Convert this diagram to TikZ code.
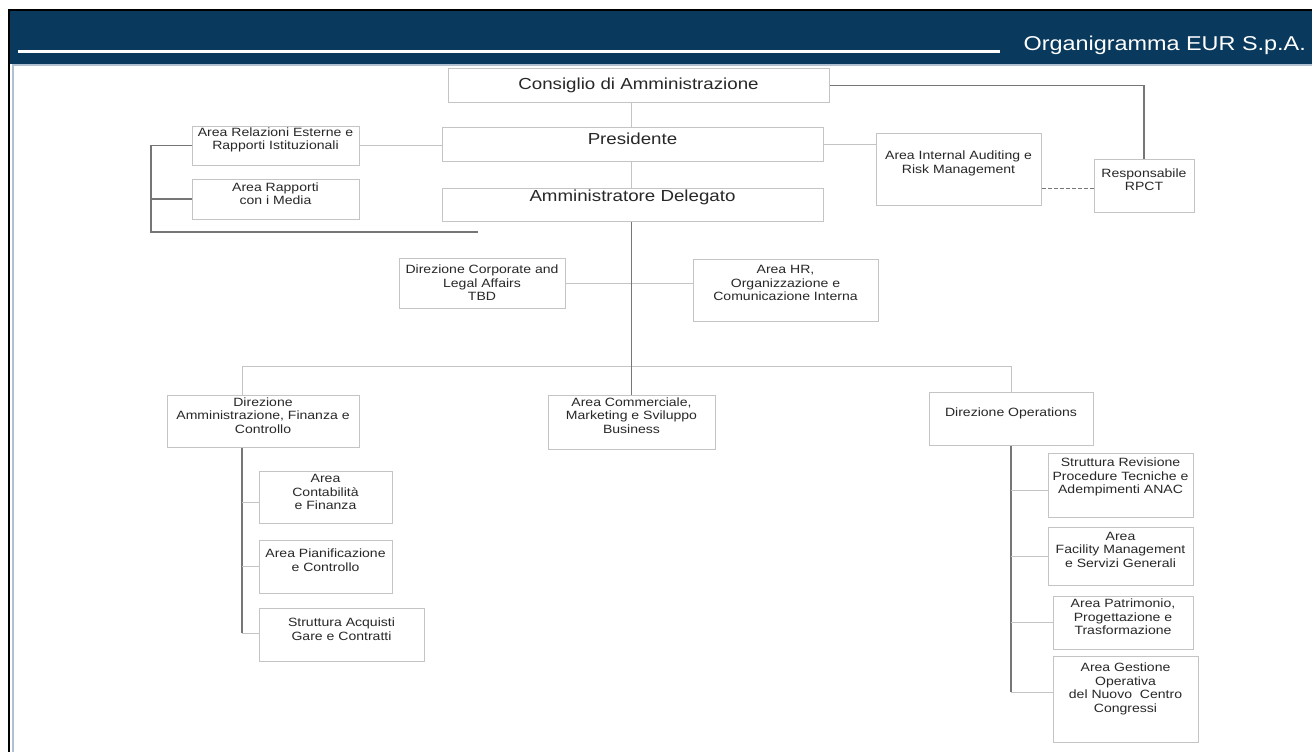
\documentclass[tikz,border=0pt]{standalone}
\usepackage{fontspec}
\setmainfont[FakeStretch=1.17]{Liberation Sans}

\definecolor{banner}{RGB}{9,57,92}
\definecolor{frameline}{RGB}{176,192,208}
\definecolor{boxline}{RGB}{196,196,196}
\definecolor{thinline}{RGB}{196,196,196}
\definecolor{darkline}{RGB}{118,118,118}
\definecolor{ink}{RGB}{40,40,40}

% \orgunit{name}{text style}{x1}{y1}{x2}{y2}{text lift}{text}
\newcommand\orgunit[8]{%
  \node[orgbox, minimum width={#5-#3}, minimum height={#6-#4},
        label={[#2, yshift=#7pt]center:{#8}}] (#1) at ({(#3+#5)/2},{(#4+#6)/2}) {};}

\begin{document}
\begin{tikzpicture}[x=1pt, y=-1pt,
  orgbox/.style={draw=boxline, line width=1pt, fill=white, inner sep=0pt},
  smalltxt/.style={font=\fontsize{12}{13.5}\selectfont, text=ink, align=center, inner sep=0pt},
  bigtxt/.style={font=\fontsize{16}{18}\selectfont, text=ink, align=center, inner sep=0pt},
  thin/.style={draw=thinline, line width=1pt},
  dark/.style={draw=darkline, line width=1.4pt}]

\useasboundingbox (0,0) rectangle (1312,752);
\fill[white] (0,0) rectangle (1312,752);

% header band
\fill[banner] (10,11) rectangle (1312,64);
\draw[frameline, line width=2pt] (13,752) -- (13,65) -- (1312,65);
\draw[black, line width=2pt] (9,752) -- (9,10) -- (1312,10);
\draw[white, line width=3pt] (18,52) -- (1000,52);
\node[font=\fontsize{20}{24}\selectfont, text=white, anchor=east, inner sep=0pt] (title) at (1306,45) {Organigramma EUR S.p.A.};

% top governance
\orgunit{cda}{bigtxt}{448}{69}{829}{102}{0}{Consiglio di Amministrazione}
\orgunit{pres}{bigtxt}{442}{127}{823}{161}{5}{Presidente}
\orgunit{ad}{bigtxt}{442}{188}{823}{221}{7.5}{Amministratore Delegato}

% staff units
\orgunit{rel}{smalltxt}{192}{126}{359}{165}{5.5}{Area Relazioni Esterne e\\Rapporti Istituzionali}
\orgunit{med}{smalltxt}{192}{179}{359}{219}{5.5}{Area Rapporti\\con i Media}
\orgunit{iar}{smalltxt}{876}{133}{1041}{205}{5.5}{Area Internal Auditing e\\Risk Management}
\orgunit{rpct}{smalltxt}{1094}{159}{1194}{212}{6}{Responsabile\\RPCT}
\orgunit{corp}{smalltxt}{399}{258}{565}{308}{0}{Direzione Corporate and\\Legal Affairs\\TBD}
\orgunit{hr}{smalltxt}{693}{259}{878}{321}{7}{Area HR,\\Organizzazione e\\Comunicazione Interna}

% line units
\orgunit{afc}{smalltxt}{167}{395}{359}{447}{5.5}{Direzione\\Amministrazione, Finanza e\\Controllo}
\orgunit{comm}{smalltxt}{548}{395}{715}{449}{6.5}{Area Commerciale,\\Marketing e Sviluppo\\Business}
\orgunit{ops}{smalltxt}{929}{392}{1093}{445}{5.5}{Direzione Operations}

% AFC sub-units
\orgunit{cont}{smalltxt}{259}{471}{392}{523}{5}{Area\\Contabilità\\e Finanza}
\orgunit{pian}{smalltxt}{259}{540}{392}{593}{6.5}{Area Pianificazione\\e Controllo}
\orgunit{acq}{smalltxt}{259}{608}{424}{661}{5.5}{Struttura Acquisti\\Gare e Contratti}

% Operations sub-units
\orgunit{rev}{smalltxt}{1048}{453}{1193}{517}{8}{Struttura Revisione\\Procedure Tecniche e\\Adempimenti ANAC}
\orgunit{fac}{smalltxt}{1048}{527}{1193}{585}{6.5}{Area\\Facility Management\\e Servizi Generali}
\orgunit{pat}{smalltxt}{1053}{596}{1193}{649}{5.5}{Area Patrimonio,\\Progettazione e\\Trasformazione}
\orgunit{ges}{smalltxt}{1053}{656}{1198}{742}{10}{Area Gestione\\Operativa\\del Nuovo~ Centro\\Congressi}

% helper points
\coordinate (busL) at (242,366);
\coordinate (busR) at (1011,366);
\coordinate (brk) at (151,232);
\coordinate (brkEnd) at (478,232);
\coordinate (dashL) at ([yshift=-19pt]iar.east);

% main spine, kept on the axis of the commercial area
\draw[thin] (cda.south -| comm.north) -- (pres.north -| comm.north);
\draw[thin] (pres.south -| comm.north) -- (ad.north -| comm.north);
\draw[thin] (corp.east) -- (corp.east -| hr.west);
\draw[thin] (afc.north -| busL) -- (busL) -- (busR) -- (ops.north);
\draw[dark, line width=1.8pt] (ad.south -| comm.north) -- (comm.north);

% staff links
\draw[thin] (rel.east) -- (rel.east -| pres.west);
\draw[thin] (pres.east) -- (pres.east -| iar.west);
\draw[dark] (cda.east) -| (rpct.north);
\draw[darkline, line width=1pt, dash pattern=on 4pt off 2pt] (dashL) -- (dashL -| rpct.west);
\draw[dark] (rel.west) -| (brk) -- (brkEnd);
\draw[dark] (med.west) -- (med.west -| brk);

% AFC branch
\draw[dark, line width=1.8pt] (afc.south -| busL) -- ([yshift=1.5pt]acq.west -| busL);
\draw[thin] ([yshift=-5pt]cont.west -| busL) -- ([yshift=-5pt]cont.west);
\draw[thin] (pian.west -| busL) -- (pian.west);
\draw[thin] ([yshift=1.5pt]acq.west -| busL) -- ([yshift=1.5pt]acq.west);

% Operations branch
\draw[dark, line width=1.8pt] (ops.south) -- ([yshift=7pt]ges.west -| ops.south);
\draw[thin] ([yshift=-5pt]rev.west -| ops.south) -- ([yshift=-5pt]rev.west);
\draw[thin] (fac.west -| ops.south) -- (fac.west);
\draw[thin] (pat.west -| ops.south) -- (pat.west);
\draw[thin] ([yshift=7pt]ges.west -| ops.south) -- ([yshift=7pt]ges.west);
\end{tikzpicture}
\end{document}
